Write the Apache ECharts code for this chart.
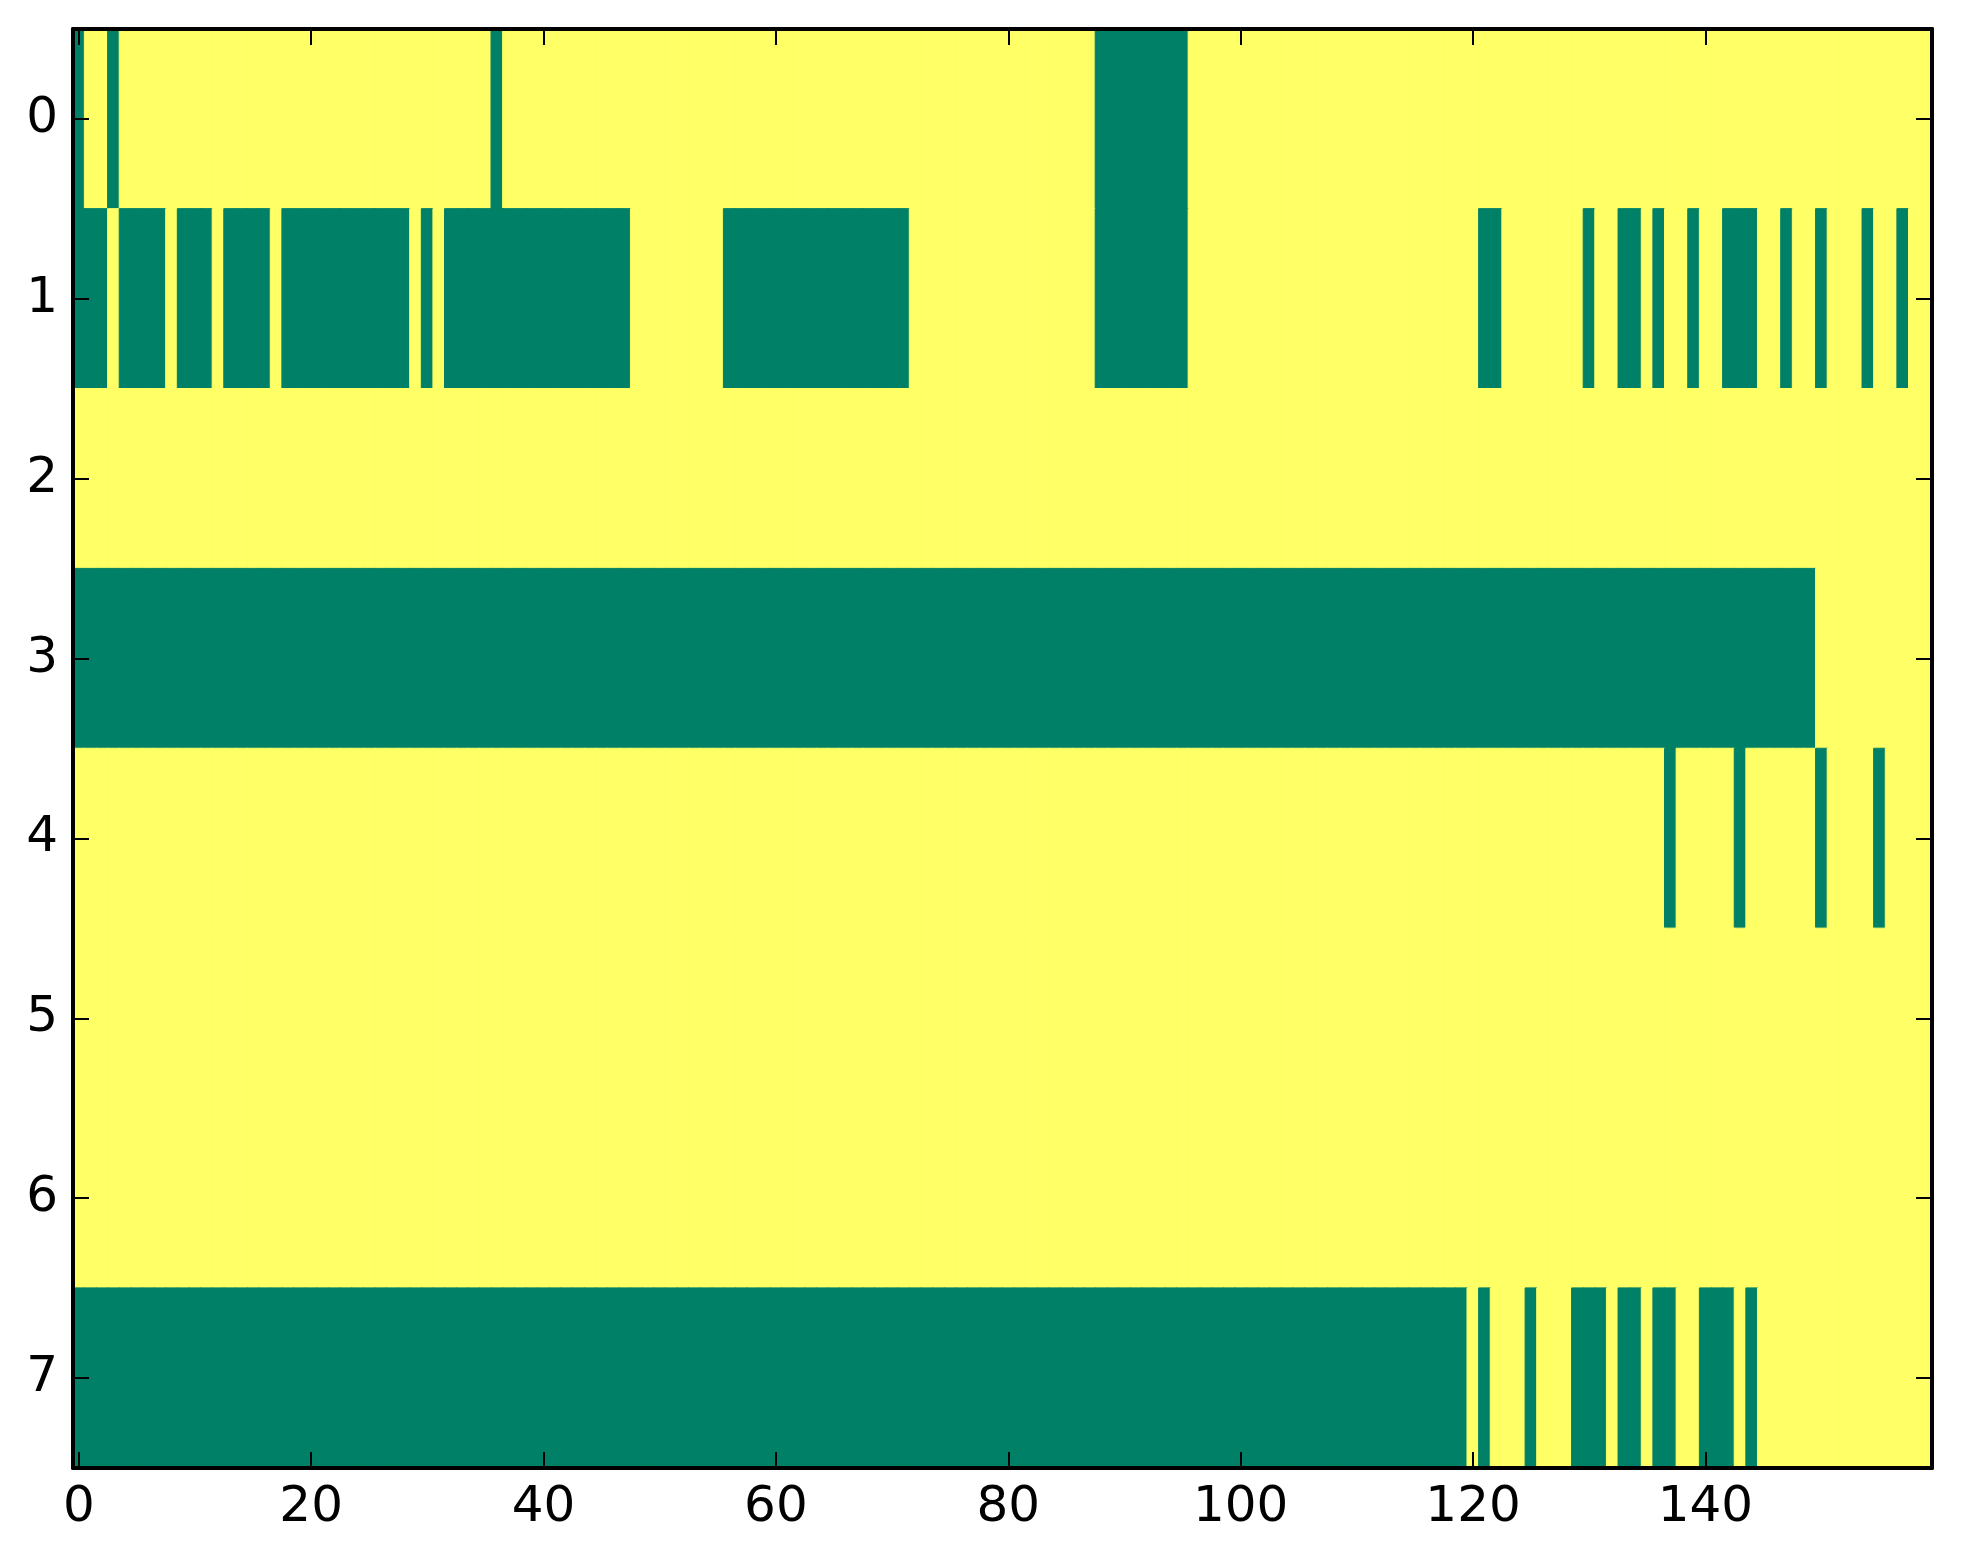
<!DOCTYPE html>
<html>
<head>
<meta charset="utf-8">
<script src="https://cdn.jsdelivr.net/npm/echarts@6/dist/echarts.min.js"></script>
<style>
  html, body { margin: 0; padding: 0; background: #ffffff; }
  #chart { width: 1963px; height: 1564px; }
</style>
</head>
<body>
<div id="chart"></div>
<script>
// number of columns in the matrix
var columnCount = 160;

// row labels (top to bottom)
var rowLabels = ['0', '1', '2', '3', '4', '5', '6', '7'];

// x tick labels shown on the axis
var xTickLabels = [0, 20, 40, 60, 80, 100, 120, 140];

// green (value 0) runs per row, [firstColumn, lastColumn]; everything else is yellow (value 1)
var row0Green = [[0, 0], [3, 3], [36, 36], [88, 95]];
var row1Green = [[0, 2], [4, 7], [9, 11], [13, 16], [18, 28], [30, 30], [32, 47], [56, 71], [88, 95],
	[121, 122], [130, 130], [133, 134], [136, 136], [139, 139], [142, 144], [147, 147], [150, 150],
	[154, 154], [157, 157]];
var row2Green = [];
var row3Green = [[0, 149]];
var row4Green = [[137, 137], [143, 143], [150, 150], [155, 155]];
var row5Green = [];
var row6Green = [];
var row7Green = [[0, 119], [121, 121], [125, 125], [129, 131], [133, 134], [136, 137], [140, 142], [144, 144]];

var rowsGreen = [row0Green, row1Green, row2Green, row3Green, row4Green, row5Green, row6Green, row7Green];

var GREEN = '#008066';
var YELLOW = '#ffff66';

// build the category list and the heatmap cells
var xCategories = [];
for (var c = 0; c < columnCount; ++c) {
	xCategories.push(String(c));
}

var cells = [];
for (var r = 0; r < rowsGreen.length; ++r) {
	var runs = rowsGreen[r];
	for (var c = 0; c < columnCount; ++c) {
		var v = 1;
		for (var k = 0; k < runs.length; ++k) {
			if (c >= runs[k][0] && c <= runs[k][1]) {
				v = 0;
				break;
			}
		}
		var col = v === 0 ? GREEN : YELLOW;
		// border in the same colour hides the hairline seams between cells
		cells.push({
			value: [c, r, v],
			itemStyle: { color: col, borderColor: col, borderWidth: 1 }
		});
	}
}

function isTickColumn(index) {
	return xTickLabels.indexOf(index) >= 0;
}

var labelFont = {
	color: '#000000',
	fontFamily: 'DejaVu Sans',
	fontSize: 50
};

var lineStyle = { color: '#000000', width: 4 };
var tickStyle = { color: '#000000', width: 2 };

var chart = echarts.init(document.getElementById('chart'), null, { renderer: 'canvas' });

var option = {
	backgroundColor: '#ffffff',
	animation: false,
	grid: {
		left: 73,
		top: 29,
		width: 1859,
		height: 1439,
		containLabel: false
	},
	xAxis: [{
		type: 'category',
		data: xCategories,
		position: 'bottom',
		z: 5,
		axisLine: { show: true, lineStyle: lineStyle },
		axisTick: { show: true, inside: true, length: 16, alignWithLabel: true,
			interval: function (index) { return isTickColumn(index); }, lineStyle: tickStyle },
		axisLabel: Object.assign({ show: true, margin: 15,
			interval: function (index) { return isTickColumn(index); } }, labelFont),
		splitLine: { show: false }
	}, {
		type: 'category',
		data: xCategories,
		position: 'top',
		z: 5,
		axisLine: { show: true, lineStyle: lineStyle },
		axisTick: { show: true, inside: true, length: 16, alignWithLabel: true,
			interval: function (index) { return isTickColumn(index); }, lineStyle: tickStyle },
		axisLabel: { show: false },
		splitLine: { show: false }
	}],
	yAxis: [{
		type: 'category',
		data: rowLabels,
		inverse: true,
		position: 'left',
		z: 5,
		axisLine: { show: true, lineStyle: lineStyle },
		axisTick: { show: true, inside: true, length: 16, alignWithLabel: true, interval: 0, lineStyle: tickStyle },
		axisLabel: Object.assign({ show: true, margin: 15, interval: 0 }, labelFont),
		splitLine: { show: false }
	}, {
		type: 'category',
		data: rowLabels,
		inverse: true,
		position: 'right',
		z: 5,
		axisLine: { show: true, lineStyle: lineStyle },
		axisTick: { show: true, inside: true, length: 16, alignWithLabel: true, interval: 0, lineStyle: tickStyle },
		axisLabel: { show: false },
		splitLine: { show: false }
	}],
	visualMap: {
		type: 'piecewise',
		show: false,
		dimension: 2,
		pieces: [
			{ value: 0, color: GREEN },
			{ value: 1, color: YELLOW }
		]
	},
	series: [{
		type: 'heatmap',
		xAxisIndex: 0,
		yAxisIndex: 0,
		data: cells,
		emphasis: { disabled: true },
		progressive: 0
	}]
};

chart.setOption(option);
</script>
</body>
</html>
